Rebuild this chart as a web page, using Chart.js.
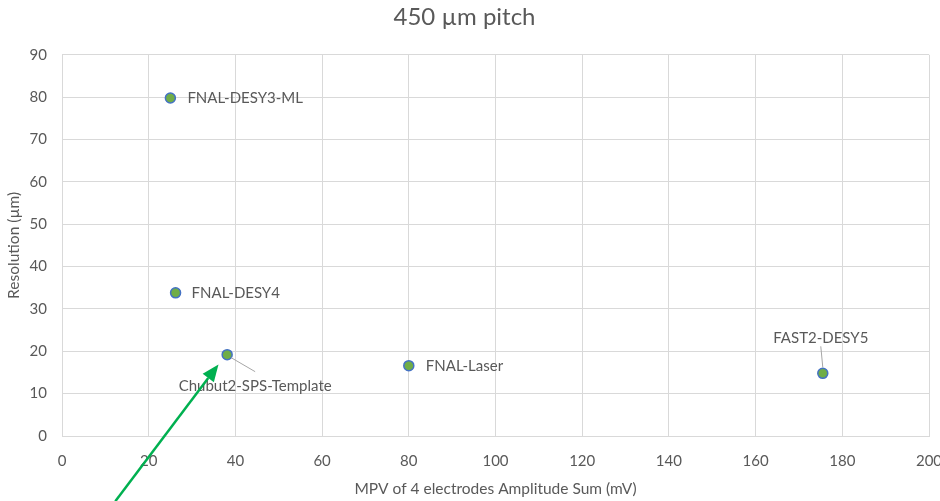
<!DOCTYPE html>
<html>
<head>
<meta charset="utf-8">
<script src="https://cdn.jsdelivr.net/npm/chart.js@4"></script>
<style>
  html, body { margin: 0; padding: 0; background: #fff; overflow: hidden; }
  #wrap { width: 940px; height: 501px; }
</style>
</head>
<body>
<div id="wrap"><canvas id="myChart"></canvas></div>
<script>
const sensors = ['FNAL-DESY3-ML', 'FNAL-DESY4', 'Chubut2-SPS-Template', 'FNAL-Laser', 'FAST2-DESY5'];
const amplitude = [25, 26.2, 38.1, 80, 175.5];      // mV
const resolution = [79.8, 33.8, 19.2, 16.6, 14.8];  // µm
const xTicks = [0, 20, 40, 60, 80, 100, 120, 140, 160, 180, 200];
const yTicks = [0, 10, 20, 30, 40, 50, 60, 70, 80, 90];
// green arrow, in data units: tail then head
const arrowPts = [[12.3, -15.4], [36.1, 16.9]];

const grey = '#595959';
const fontFam = 'Lato, "Open Sans", sans-serif';

// where each name sits relative to its marker (px); lead = draw a leader line
const labelPos = [
  { dx: 17, dy: 0, align: 'left' },
  { dx: 16, dy: 0, align: 'left' },
  { dx: 28, dy: 31, align: 'center', lead: [4, 3, 28, 17] },
  { dx: 17, dy: 0, align: 'left' },
  { dx: -2, dy: -35, align: 'center', lead: [0, -6, -2, -27] }
];

const pointLabels = {
  id: 'pointLabels',
  afterDatasetsDraw(chart) {
    const ctx = chart.ctx;
    const meta = chart.getDatasetMeta(0);
    ctx.save();
    ctx.font = '15px ' + fontFam;
    ctx.fillStyle = grey;
    ctx.textBaseline = 'middle';
    meta.data.forEach((pt, i) => {
      const p = labelPos[i];
      if (p.lead) {
        ctx.strokeStyle = '#a6a6a6';
        ctx.lineWidth = 1;
        ctx.beginPath();
        ctx.moveTo(pt.x + p.lead[0], pt.y + p.lead[1]);
        ctx.lineTo(pt.x + p.lead[2], pt.y + p.lead[3]);
        ctx.stroke();
      }
      ctx.textAlign = p.align;
      ctx.fillText(sensors[i], pt.x + p.dx, pt.y + p.dy);
    });
    ctx.restore();
  }
};

const arrow = {
  id: 'arrow',
  afterDraw(chart) {
    const xs = chart.scales.x, ys = chart.scales.y;
    const x0 = xs.getPixelForValue(arrowPts[0][0]), y0 = ys.getPixelForValue(arrowPts[0][1]);
    const x1 = xs.getPixelForValue(arrowPts[1][0]), y1 = ys.getPixelForValue(arrowPts[1][1]);
    const ang = Math.atan2(y1 - y0, x1 - x0);
    const len = 17, half = 7;
    const bx = x1 - len * Math.cos(ang), by = y1 - len * Math.sin(ang);
    const ctx = chart.ctx;
    ctx.save();
    ctx.strokeStyle = '#00b050';
    ctx.fillStyle = '#00b050';
    ctx.lineWidth = 2.5;
    ctx.beginPath();
    ctx.moveTo(x0, y0);
    ctx.lineTo(bx, by);
    ctx.stroke();
    ctx.beginPath();
    ctx.moveTo(x1, y1);
    ctx.lineTo(bx + half * Math.sin(ang), by - half * Math.cos(ang));
    ctx.lineTo(bx - half * Math.sin(ang), by + half * Math.cos(ang));
    ctx.closePath();
    ctx.fill();
    ctx.restore();
  }
};

new Chart(document.getElementById('myChart'), {
  type: 'scatter',
  data: {
    datasets: [{
      label: 'Resolution',
      data: amplitude.map((a, i) => ({ x: a, y: resolution[i] })),
      backgroundColor: '#70ad47',
      borderColor: '#4472c4',
      borderWidth: 1.5,
      pointRadius: 5,
      pointHoverRadius: 5
    }]
  },
  options: {
    responsive: true,
    maintainAspectRatio: false,
    animation: false,
    layout: { padding: { top: 0, right: 11, bottom: 0, left: 0 } },
    plugins: {
      legend: { display: false },
      tooltip: { enabled: false },
      title: {
        display: true,
        text: '450 µm pitch',
        color: grey,
        font: { family: fontFam, size: 24, weight: 'normal' },
        padding: { top: 3, bottom: 23 }
      }
    },
    scales: {
      x: {
        type: 'linear',
        min: 0, max: 200,
        afterBuildTicks: axis => { axis.ticks = xTicks.map(v => ({ value: v })); },
        afterFit: axis => { axis.height = 65; axis.paddingLeft = 0; axis.paddingRight = 0; },
        grid: { color: '#d9d9d9', drawTicks: false },
        border: { color: '#d9d9d9' },
        ticks: { color: grey, padding: 16, font: { family: fontFam, size: 15 } },
        title: {
          display: true,
          text: 'MPV of 4 electrodes Amplitude Sum (mV)',
          color: grey,
          font: { family: fontFam, size: 15.5 },
          padding: { top: 0, bottom: 3 }
        }
      },
      y: {
        min: 0, max: 90,
        afterBuildTicks: axis => { axis.ticks = yTicks.map(v => ({ value: v })); },
        afterFit: axis => { axis.width = 62; axis.paddingTop = 0; axis.paddingBottom = 0; },
        grid: { color: '#d9d9d9', drawTicks: false },
        border: { color: '#d9d9d9' },
        ticks: { color: grey, padding: 15, font: { family: fontFam, size: 15 } },
        title: {
          display: true,
          text: 'Resolution (µm)',
          color: grey,
          font: { family: fontFam, size: 15.5 },
          padding: { top: 5, bottom: 0 }
        }
      }
    }
  },
  plugins: [pointLabels, arrow]
});
</script>
</body>
</html>
